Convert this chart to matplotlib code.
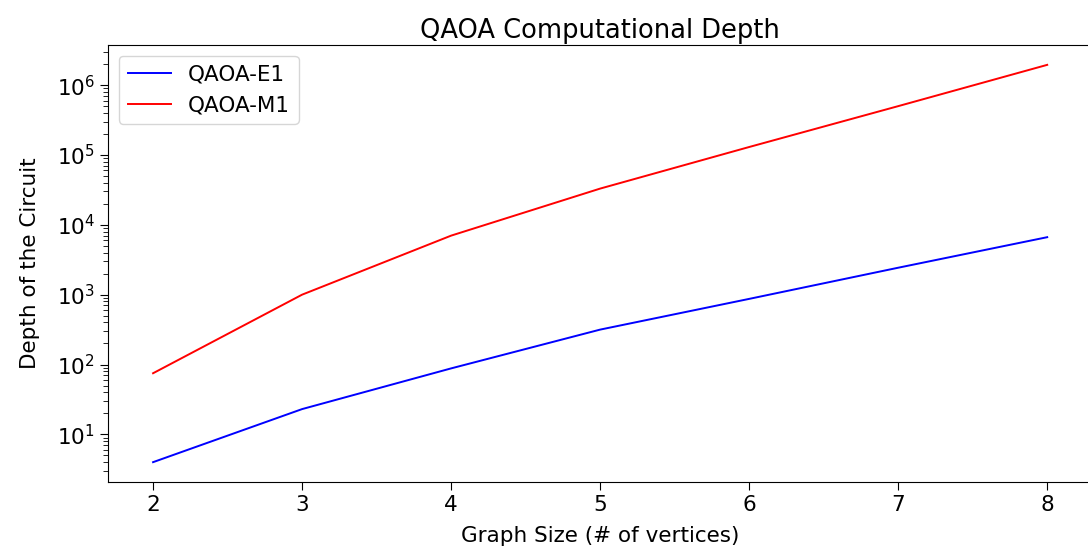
import numpy as np
import matplotlib
matplotlib.use("Agg")
import matplotlib.pyplot as plt

# -----------------------------
# Dados
# -----------------------------
graph_sizes = [2, 3, 4, 5, 6, 7, 8]
depth_e1 = [4, 23, 88, 316, 870, 2430, 6650]
depth_m1 = [75, 1000, 7000, 33000, 130000, 500000, 1950000]

plt.rcParams['font.size'] = 15.5
plt.rcParams['xtick.major.size'] = 6
plt.rcParams['ytick.major.size'] = 6
plt.rcParams['ytick.minor.size'] = 3.5

fig = plt.figure(figsize=(10.88, 5.5), dpi=100)
ax = fig.add_axes([0.0996, 0.1236, 0.904, 0.7946])

ax.plot(graph_sizes, depth_e1, color='b', lw=1.4, label='QAOA-E1')
ax.plot(graph_sizes, depth_m1, color='r', lw=1.4, label='QAOA-M1')
ax.set_yscale('log')

ax.set_title("QAOA Computational Depth", fontsize=18.5, pad=5)
ax.set_xlabel("Graph Size (# of vertices)", labelpad=8)
ax.set_ylabel("Depth of the Circuit", labelpad=12)
ax.legend(loc='upper left')

fig.savefig("out.png", dpi=100)
